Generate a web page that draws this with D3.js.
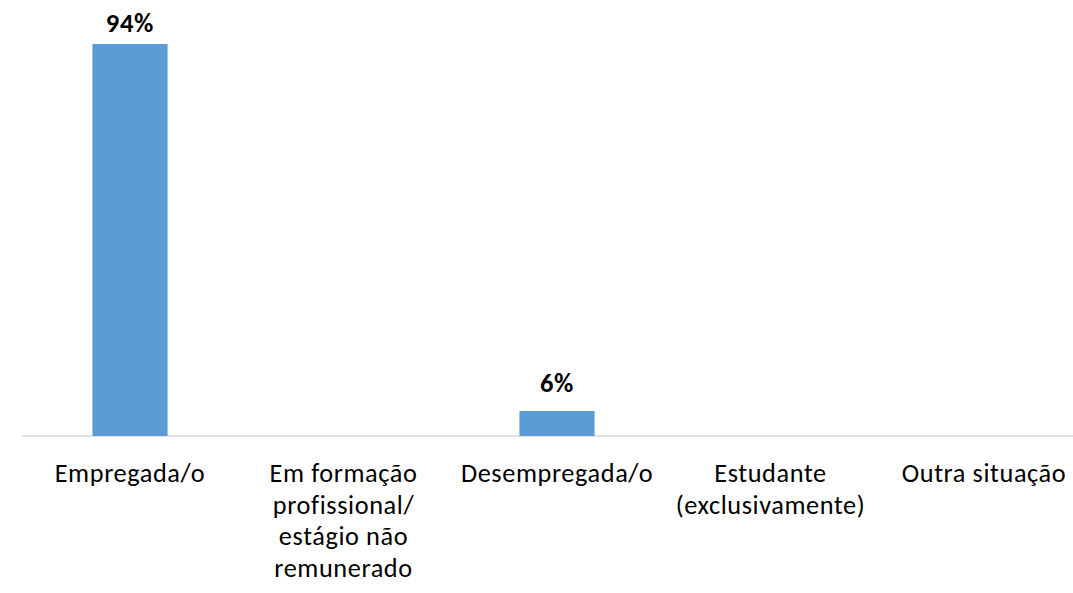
<!DOCTYPE html>
<html><head><meta charset="utf-8">
<script src="https://cdn.jsdelivr.net/npm/d3@7"></script>
<style>body{margin:0;background:#fff}svg{display:block}</style>
</head><body>
<svg id="c" width="1073" height="593"></svg>
<script>
const categories = ["Empregada/o", "Em formação profissional/ estágio não remunerado", "Desempregada/o", "Estudante (exclusivamente)", "Outra situação"];
const categoryLines = [["Empregada/o"], ["Em formação", "profissional/", "estágio não", "remunerado"], ["Desempregada/o"], ["Estudante", "(exclusivamente)"], ["Outra situação"]];
const values = [0.94, 0, 0.06, 0, 0];
const valueLabels = ["94%", "", "6%", "", ""];

const font = "Carlito, Calibri, Lato, sans-serif";
const svg = d3.select("#c");
const x = d3.scaleBand().domain(categories).range([23.25, 1090.75]).paddingInner(0.648).paddingOuter(0.324);
const y = d3.scaleLinear().domain([0, 1]).range([436, 19]);

svg.append("line").attr("x1", 22).attr("x2", 1073).attr("y1", y(0)).attr("y2", y(0))
  .attr("stroke", "#d9d9d9").attr("stroke-width", 1.5);

svg.selectAll("rect.bar").data(categories).enter().append("rect")
  .attr("x", d => x(d)).attr("width", x.bandwidth())
  .attr("y", (d, i) => y(values[i])).attr("height", (d, i) => y(0) - y(values[i]))
  .attr("fill", "#5b9bd5");

svg.selectAll("text.vl").data(categories).enter().append("text")
  .attr("x", d => x(d) + x.bandwidth() / 2)
  .attr("y", (d, i) => Math.max(y(values[i]) - 19, 32))
  .attr("text-anchor", "middle").attr("font-family", font).attr("font-weight", "bold")
  .attr("font-size", 26.5).attr("letter-spacing", 0.7).attr("fill", "#000")
  .text((d, i) => valueLabels[i]);

const g = svg.selectAll("text.cl").data(categories).enter().append("text")
  .attr("text-anchor", "middle").attr("font-family", font).attr("font-size", 26.3)
  .attr("letter-spacing", 0.6).attr("fill", "#000");
g.each(function(d, i) {
  const t = d3.select(this);
  categoryLines[i].forEach((ln, j) => {
    t.append("tspan").attr("x", x(d) + x.bandwidth() / 2).attr("y", 482 + j * 31.5).text(ln);
  });
});
</script>
</body></html>
